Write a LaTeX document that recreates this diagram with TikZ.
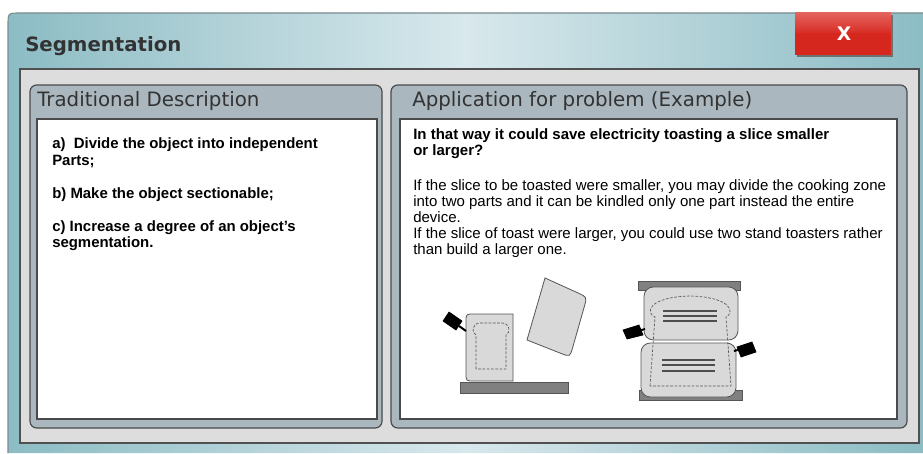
\documentclass[tikz,border=0pt]{standalone}
\usepackage{fontspec}
\setmainfont{Liberation Sans}
\newfontfamily\dejavu{DejaVu Sans}
\usetikzlibrary{positioning}

\definecolor{frameteal}{HTML}{8CBCC4}
\definecolor{framelight}{HTML}{D8E8EC}
\definecolor{framerim}{HTML}{7A8C90}
\definecolor{areagray}{HTML}{DDDDDD}
\definecolor{areaedge}{HTML}{505050}
\definecolor{panelgray}{HTML}{AAB7BE}
\definecolor{edgegray}{HTML}{4A4A4A}
\definecolor{headink}{HTML}{333333}
\definecolor{closered}{HTML}{D6271F}
\definecolor{closelight}{HTML}{E4635D}
\definecolor{shadowgray}{HTML}{707070}
\definecolor{toastgray}{HTML}{D9D9D9}
\definecolor{toastedge}{HTML}{555555}
\definecolor{plategray}{HTML}{808080}
\definecolor{coilgray}{HTML}{4D4D4D}

\begin{document}
\begin{tikzpicture}[x=0.75pt,y=-0.75pt,
  panel/.style={draw=edgegray,fill=panelgray,line width=0.9pt,rounded corners=5pt},
  sheet/.style={draw=edgegray,fill=white,line width=0.9pt},
  headtext/.style={inner sep=0pt,anchor=base west,text=headink,
    font=\dejavu\fontsize{14.85}{16}\selectfont},
  listtext/.style={inner sep=0pt,anchor=north west,align=left,text=black},
  toast/.style={draw=toastedge,fill=toastgray,line width=0.6pt},
  plate/.style={draw=toastedge,fill=plategray,line width=0.6pt},
  knob/.style={draw=black,fill=black,line width=0.5pt},
  crumb/.style={draw=toastedge,line width=0.5pt,dash pattern=on 2pt off 1.2pt},
  coil/.style={draw=coilgray,line width=2.2pt}]

\useasboundingbox (0,0) rectangle (923,453);
\fill[white] (0,0) rectangle (923,453);

% window frame
\shade[left color=frameteal,right color=frameteal,middle color=framelight]
  (8,453) -- (8,25) .. controls (8,13) .. (20,13) -- (923,13) -- (923,453) -- cycle;
\draw[framerim,line width=0.8pt] (8,453) -- (8,25) .. controls (8,13) .. (20,13) -- (923,13);
\node[inner sep=0pt,anchor=base west,text=headink,
  font=\dejavu\bfseries\fontsize{14.8}{16}\selectfont] (title) at (25,52) {Segmentation};

% close button
\fill[shadowgray] (797,15) rectangle (893,57);
\fill[closered] (795,13) rectangle (891,55);
\shade[top color=closelight,bottom color=closered!90!closelight] (795,13) rectangle (891,33);
\node[text=white,font=\dejavu\bfseries\fontsize{14}{15}\selectfont] (close) at (844,34) {X};

% content area and the two panels
\draw[draw=areaedge,fill=areagray,line width=0.9pt] (20,69) rectangle (919,443);
\draw[panel] (30,85) rectangle (382,428);
\draw[panel] (391,85) rectangle (907,428);
\draw[sheet] (37,119) rectangle (377,419);
\draw[sheet] (400,119) rectangle (897,419);

\node[headtext] (leftname) at (37,106) {Traditional Description};
\node[headtext] (rightname) at (412,106) {Application for problem (Example)};

\node[listtext,font=\bfseries\fontsize{11.2}{12.5}\selectfont] (steps) at (52,137.5)
  {a)\ \ Divide the object into independent\\ Parts;\\[12.25pt]
   b) Make the object sectionable;\\[12.25pt]
   c) Increase a degree of an object's\\ segmentation.};

\node[listtext,font=\fontsize{11.25}{12}\selectfont] (story) at (413,128.5)
  {\textbf{In that way it could save electricity toasting a slice smaller}\\
   \textbf{or larger?}\\[14.25pt]
   If the slice to be toasted were smaller, you may divide the cooking zone\\
   into two parts and it can be kindled only one part instead the entire\\
   device.\\
   If the slice of toast were larger, you could use two stand toasters rather\\
   than build a larger one.};

% single toaster with open lid
\draw[plate] (460,382) rectangle (568,393);
\draw[toast] (513,314) -- (474,314) .. controls (466,314) .. (466,322) -- (466,373)
  .. controls (466,381) .. (474,381) -- (513,381) -- cycle;
\draw[crumb] (476,369) -- (476,335) .. controls (471,333) and (472,323) .. (480,323)
  -- (502,323) .. controls (510,323) and (511,333) .. (506,335) -- (506,369) -- cycle;
\draw[black,line width=1.5pt] (459,326) -- (466,331);
\draw[knob] (449,312) -- (462,321) -- (456,330) -- (443,321) -- cycle;
\draw[toast] (527,340) -- (545,278) -- (577.9,292.9) .. controls (587,297) .. (584.3,306.6)
  -- (572.7,347.4) .. controls (570,357) .. (560.7,353.3) -- cycle;

% two toasters stacked
\draw[plate] (638,281) rectangle (740,290);
\draw[plate] (639,390) rectangle (742,400);
\draw[toast,rounded corners=7pt] (644,287) rectangle (738,340);
\draw[toast,rounded corners=7pt] (641,343) rectangle (736,397);
\draw[crumb] (650,386) -- (655,317) .. controls (645,313) and (648,297) .. (690,296)
  .. controls (732,297) and (735,313) .. (726,317) -- (731,386) -- cycle;
\foreach \y in {311,316,321} \draw[coil] (663,\y) -- (717,\y);
\foreach \y in {360,365,371} \draw[coil] (662,\y) -- (715,\y);
\draw[black,line width=1.5pt] (638,331) -- (645,329);
\draw[knob] (623,330) -- (639,325) -- (643,335) -- (627,339) -- cycle;
\draw[black,line width=1.5pt] (734,351) -- (741,349);
\draw[knob] (737,347) -- (752,342) -- (756,352) -- (741,357) -- cycle;

\end{tikzpicture}
\end{document}
